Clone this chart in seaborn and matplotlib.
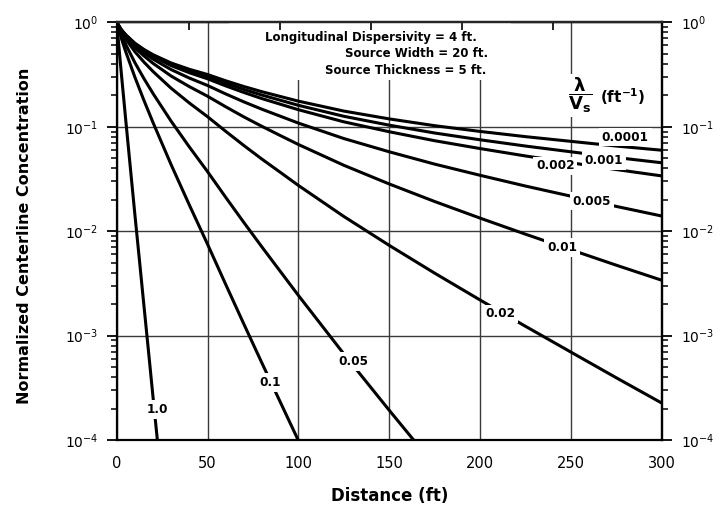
import numpy as np
import pandas as pd
import matplotlib
matplotlib.use("Agg")
import matplotlib.pyplot as plt
import seaborn as sns
from matplotlib.patches import Rectangle
from matplotlib.ticker import NullLocator, NullFormatter, FixedLocator

# ---------------- data (log10 of normalized concentration) ----------------
x_main = [0, 2.5, 5, 7.5, 10, 15, 20, 25, 30, 40, 50, 60, 70, 80, 90, 100,
          125, 150, 175, 200, 225, 250, 275, 300]
logc_0p0001 = [0, -0.07, -0.12, -0.16, -0.20, -0.26, -0.31, -0.35, -0.39, -0.45, -0.50, -0.56,
               -0.615, -0.665, -0.71, -0.755, -0.85, -0.925, -0.99, -1.045, -1.095, -1.14, -1.185, -1.225]
logc_0p001 = [0, -0.071, -0.122, -0.163, -0.204, -0.266, -0.318, -0.36, -0.402, -0.466, -0.52, -0.584,
              -0.643, -0.697, -0.746, -0.795, -0.90, -0.985, -1.06, -1.125, -1.185, -1.24, -1.295, -1.345]
logc_0p002 = [0, -0.072, -0.124, -0.166, -0.208, -0.272, -0.326, -0.371, -0.415, -0.483, -0.541, -0.609,
              -0.672, -0.731, -0.784, -0.837, -0.953, -1.048, -1.134, -1.209, -1.28, -1.345, -1.41, -1.471]
logc_0p005 = [0, -0.075, -0.13, -0.176, -0.221, -0.292, -0.352, -0.403, -0.453, -0.534, -0.605, -0.686,
              -0.762, -0.833, -0.899, -0.965, -1.113, -1.24, -1.358, -1.465, -1.568, -1.665, -1.763, -1.855]
logc_0p01 = [0, -0.08, -0.141, -0.191, -0.242, -0.322, -0.393, -0.454, -0.515, -0.616, -0.708, -0.809,
             -0.906, -0.997, -1.084, -1.17, -1.369, -1.548, -1.716, -1.875, -2.029, -2.178, -2.326, -2.47]
logc_0p02 = [0, -0.09, -0.16, -0.221, -0.281, -0.381, -0.471, -0.552, -0.632, -0.773, -0.904, -1.044,
             -1.18, -1.311, -1.436, -1.562, -1.859, -2.136, -2.402, -2.659, -2.911, -3.158, -3.404, -3.646]

x_0p05 = [0, 2.5, 5, 7.5, 10, 15, 20, 25, 30, 40, 50, 60, 70, 80, 90, 100, 125, 150, 175]
logc_0p05 = [0, -0.117, -0.213, -0.30, -0.386, -0.539, -0.682, -0.815, -0.948, -1.194, -1.43, -1.676,
             -1.917, -2.153, -2.384, -2.615, -3.175, -3.715, -4.245]

x_0p1 = [0, 2.5, 5, 7.5, 10, 15, 20, 25, 30, 40, 50, 60, 70, 80, 90, 100, 110]
logc_0p1 = [0, -0.151, -0.283, -0.404, -0.525, -0.748, -0.96, -1.163, -1.365, -1.75, -2.125, -2.51,
            -2.89, -3.265, -3.635, -4.005, -4.37]

x_1p0 = [0, 2.5, 5, 7.5, 10, 12.5, 15, 17.5, 20, 22.5, 25]
logc_1p0 = [0, -0.48, -0.94, -1.39, -1.84, -2.275, -2.715, -3.15, -3.59, -4.02, -4.455]

curve_names = ["0.0001", "0.001", "0.002", "0.005", "0.01", "0.02", "0.05", "0.1", "1.0"]
label_x = [280, 268, 241.5, 261.7, 245.2, 211.2, 130.4, 84.5, 22.6]
label_logc = [-1.10, -1.325, -1.375, -1.712, -2.157, -2.793, -3.25, -3.45, -3.71]

x_ticks = [0, 50, 100, 150, 200, 250, 300]
y_ticks = [1e-4, 1e-3, 1e-2, 1e-1, 1e0]
top_ticks = [40, 90, 140, 190, 240]
info_lines = ["Longitudinal Dispersivity = 4 ft.", "Source Width = 20 ft.", "Source Thickness = 5 ft."]

# ---------------- build long table ----------------
series = [
    ("0.0001", x_main, logc_0p0001), ("0.001", x_main, logc_0p001), ("0.002", x_main, logc_0p002),
    ("0.005", x_main, logc_0p005), ("0.01", x_main, logc_0p01), ("0.02", x_main, logc_0p02),
    ("0.05", x_0p05, logc_0p05), ("0.1", x_0p1, logc_0p1), ("1.0", x_1p0, logc_1p0),
]
rows = []
for name, xs, ls in series:
    for xv, lv in zip(xs, ls):
        rows.append({"distance": xv, "conc": 10.0 ** lv, "curve": name})
df = pd.DataFrame(rows)

y_minor = [m * d for d in [1e-4, 1e-3, 1e-2, 1e-1] for m in range(2, 10)]

# ---------------- style ----------------
sns.set_theme(style="white")
plt.rcParams["font.family"] = ["DejaVu Sans"]
plt.rcParams["mathtext.fontset"] = "dejavusans"
plt.rcParams["mathtext.default"] = "regular"
plt.rcParams["text.color"] = "black"
plt.rcParams["axes.labelcolor"] = "black"
plt.rcParams["xtick.color"] = "black"
plt.rcParams["ytick.color"] = "black"

fig = plt.figure(figsize=(7.28, 5.07), dpi=100)
ax = fig.add_axes([116.7 / 728, 1 - 440 / 507, 545 / 728, 417.7 / 507])

sns.lineplot(data=df, x="distance", y="conc", hue="curve", palette={n: "black" for n in curve_names},
             estimator=None, sort=False, legend=False, linewidth=2.2, ax=ax, zorder=3)

ax.set_yscale("log")
ax.set_xlim(0, 300)
ax.set_ylim(1e-4, 1)

ax.set_xticks(x_ticks)
ax.xaxis.set_minor_locator(FixedLocator(list(range(0, 301, 10))))
ax.yaxis.set_major_locator(FixedLocator(y_ticks))
ax.yaxis.set_minor_locator(FixedLocator(y_minor))
ax.yaxis.set_minor_formatter(NullFormatter())
ax.grid(True, which="major", color="#3a3a3a", linewidth=1.0, zorder=1.5)

for sp in ax.spines.values():
    sp.set_linewidth(1.6)
    sp.set_color("black")

ax.tick_params(axis="x", which="major", direction="inout", length=11, width=1.3, pad=6,
               labelsize=10.5, colors="black")
ax.tick_params(axis="x", which="minor", direction="out", length=4.5, width=1.1, colors="black")
ax.tick_params(axis="y", which="major", direction="out", length=7, width=1.3, pad=6,
               labelsize=10, left=True, right=False, colors="black")
ax.tick_params(axis="y", which="minor", direction="out", length=4.5, width=1.1, left=True, right=False,
               colors="black")

# right-hand duplicate axis
secy = ax.secondary_yaxis("right")
secy.yaxis.set_major_locator(FixedLocator(y_ticks))
secy.yaxis.set_minor_locator(FixedLocator(y_minor))
secy.yaxis.set_minor_formatter(NullFormatter())
secy.tick_params(axis="y", which="major", direction="out", length=7, width=1.3, pad=7,
                 labelsize=10, colors="black")
secy.tick_params(axis="y", which="minor", direction="out", length=4.5, width=1.1, colors="black")
secy.spines["right"].set_linewidth(1.6)

# top ticks
secx = ax.secondary_xaxis("top")
secx.set_xticks(top_ticks)
secx.xaxis.set_minor_locator(NullLocator())
secx.tick_params(axis="x", which="major", direction="in", length=6, width=1.2, labeltop=False,
                 colors="black")
secx.spines["top"].set_linewidth(1.6)
secx.set_zorder(4)

# white panel behind info text (hides grid lines)
ax.add_patch(Rectangle((62, 10 ** -0.553), 155, 1.2 - 10 ** -0.553, facecolor="white",
                       edgecolor="none", zorder=1.8))

# info text
info_x = [198.5, 204.6, 203.5]
info_logc = [-0.141, -0.296, -0.457]
for s, xx, ll in zip(info_lines, info_x, info_logc):
    ax.text(xx, 10 ** ll, s, ha="right", va="center", fontsize=8.5, fontweight="bold", zorder=5,
            color="black")

# curve labels
for s, xx, ll in zip(curve_names, label_x, label_logc):
    ax.text(xx, 10 ** ll, s, ha="center", va="center", fontsize=8.7, fontweight="bold", zorder=6,
            color="black", bbox=dict(facecolor="white", edgecolor="none", pad=2))

# lambda / Vs header
ax.text(255, 10 ** -0.70, r"$\dfrac{\mathbf{\lambda}}{\mathbf{V}_{\mathbf{s}}}$", ha="center", va="center",
        fontsize=13, zorder=6, color="black", bbox=dict(facecolor="white", edgecolor="none", pad=1))
ax.text(278.5, 10 ** -0.713, r"(ft$^{\mathbf{-1}}$)", ha="center", va="center", fontsize=11,
        fontweight="bold", zorder=6, color="black")

ax.set_xlabel("Distance (ft)", fontsize=12, fontweight="bold", color="black")
ax.set_ylabel("Normalized Centerline Concentration", fontsize=11.5, fontweight="bold", color="black")
ax.xaxis.set_label_coords(0.5, -0.112)
ax.yaxis.set_label_coords(-0.155, 0.49)

fig.savefig("out.png", dpi=100, facecolor="white")
